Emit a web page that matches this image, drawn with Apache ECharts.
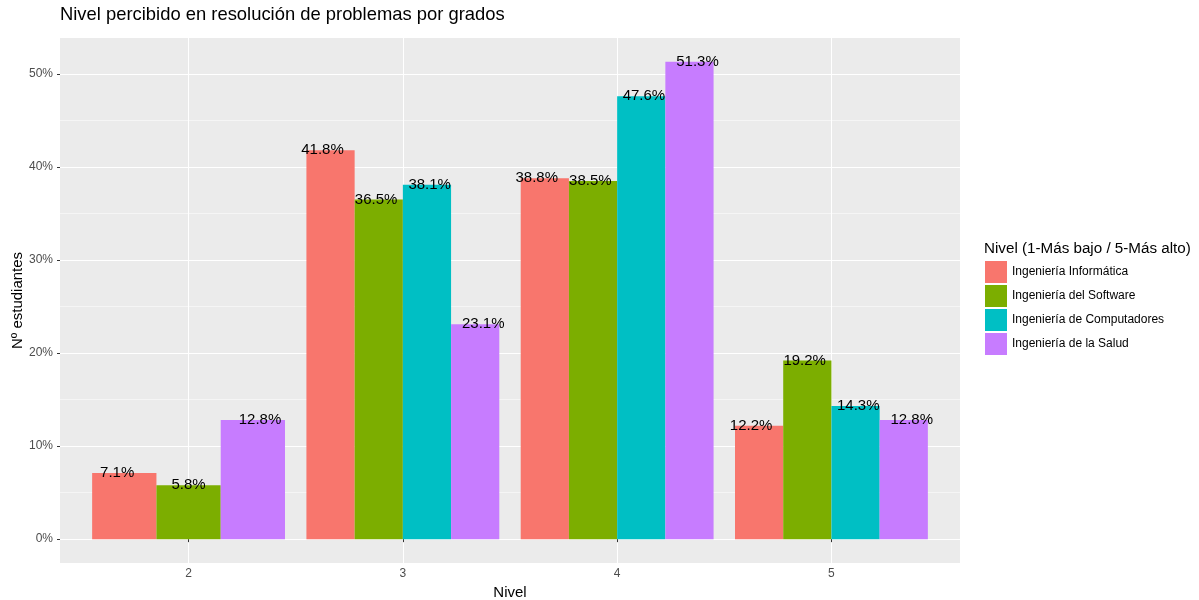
<!DOCTYPE html>
<html>
<head>
<meta charset="utf-8">
<script src="https://cdn.jsdelivr.net/npm/echarts@6/dist/echarts.min.js"></script>
<style>html,body{margin:0;padding:0;background:#fff}#c{width:1199px;height:600px}</style>
</head>
<body>
<div id="c"></div>
<script>
const levels = [2, 3, 4, 5];
const groupNames = ['Ingeniería Informática', 'Ingeniería del Software', 'Ingeniería de Computadores', 'Ingeniería de la Salud'];
const informatica = [7.1, 41.8, 38.8, 12.2];
const software = [5.8, 36.5, 38.5, 19.2];
const computadores = [null, 38.1, 47.6, 14.3];
const salud = [12.8, 23.1, 51.3, 12.8];
const yTicks = [0, 10, 20, 30, 40, 50];
const yMinorTicks = [5, 15, 25, 35, 45];
const colors = ['#F8766D', '#7CAE00', '#00BFC4', '#C77CFF'];

const groups = [informatica, software, computadores, salud];
const FONT = '"Liberation Sans", Arial, sans-serif';

function buildData(g) {
  const out = [];
  levels.forEach((lv, i) => {
    if (groups[g][i] == null) return;
    let idx = 0, n = 0;
    groups.forEach((arr, k) => {
      if (arr[i] != null) { if (k < g) idx++; n++; }
    });
    out.push([lv, groups[g][i], idx, n]);
  });
  return out;
}

function renderItem(params, api) {
  const x = api.value(0), v = api.value(1), idx = api.value(2), n = api.value(3);
  const w = 0.9 / n;
  const tl = api.coord([x - 0.45 + idx * w, v]);
  const br = api.coord([x - 0.45 + (idx + 1) * w, 0]);
  const lp = api.coord([x - 0.5 + (idx + 0.5) / n, v]);
  return {
    type: 'group',
    children: [
      { type: 'rect', shape: { x: tl[0], y: tl[1], width: br[0] - tl[0], height: br[1] - tl[1] },
        style: { fill: api.visual('color') } },
      { type: 'text', z2: 100,
        style: { text: v.toFixed(1) + '%', x: lp[0], y: lp[1], align: 'center', verticalAlign: 'middle',
                 fontSize: 15, fontFamily: FONT, fill: '#000' } }
    ]
  };
}

const chart = echarts.init(document.getElementById('c'));
chart.setOption({
  animation: false,
  textStyle: { fontFamily: FONT },
  title: [
    { text: 'Nivel percibido en resolución de problemas por grados', left: 60, top: 6, padding: 0,
      textStyle: { fontSize: 18.4, fontWeight: 'normal', color: '#000', fontFamily: FONT } },
    { text: 'Nivel (1-Más bajo / 5-Más alto)', left: 984, top: 241, padding: 0,
      textStyle: { fontSize: 15.2, fontWeight: 'normal', color: '#000', fontFamily: FONT } }
  ],
  graphic: [
    { type: 'text', x: 17.5, y: 300.5, rotation: Math.PI / 2,
      style: { text: 'Nº estudiantes', align: 'center', verticalAlign: 'middle',
               fontSize: 15, fontFamily: FONT, fill: '#000' } }
  ],
  legend: {
    orient: 'vertical', left: 985, top: 261, padding: 0, itemGap: 2,
    itemWidth: 22, itemHeight: 22, icon: 'rect',
    textStyle: { fontSize: 12, color: '#000', fontFamily: FONT },
    data: groupNames
  },
  grid: { left: 60, right: 239, top: 38, bottom: 37, show: true, backgroundColor: '#EBEBEB', borderWidth: 0,
          containLabel: false, outerBoundsMode: 'none' },
  xAxis: {
    type: 'value', min: 1.4, max: 5.6,
    name: 'Nivel', nameLocation: 'middle', nameGap: 20,
    nameTextStyle: { fontSize: 15, color: '#000', fontFamily: FONT },
    axisLine: { show: false },
    axisTick: { show: true, length: 3, lineStyle: { color: '#333' }, customValues: levels },
    axisLabel: { customValues: levels, margin: 5, fontSize: 12, color: '#4D4D4D', fontFamily: FONT },
    splitLine: { show: true, lineStyle: { color: '#fff', width: 1.07 } }
  },
  yAxis: [
    {
      type: 'value', min: -2.565, max: 53.865,
      axisLine: { show: false },
      axisTick: { show: true, length: 3, lineStyle: { color: '#333' }, customValues: yTicks },
      axisLabel: { customValues: yTicks, margin: 7, fontSize: 12, color: '#4D4D4D', fontFamily: FONT,
                   formatter: v => Math.round(v) + '%' },
      splitLine: { show: true, lineStyle: { color: '#fff', width: 1.07 } }
    },
    {
      type: 'value', min: -2.565, max: 53.865, position: 'left',
      axisLine: { show: false },
      axisTick: { show: false, customValues: yMinorTicks },
      axisLabel: { show: false, customValues: yMinorTicks },
      splitLine: { show: true, lineStyle: { color: '#fff', width: 0.53 } }
    }
  ],
  series: groupNames.map((name, g) => ({
    name, type: 'custom', renderItem,
    itemStyle: { color: colors[g] },
    encode: { x: 0, y: 1 },
    data: buildData(g)
  }))
});
</script>
</body>
</html>
